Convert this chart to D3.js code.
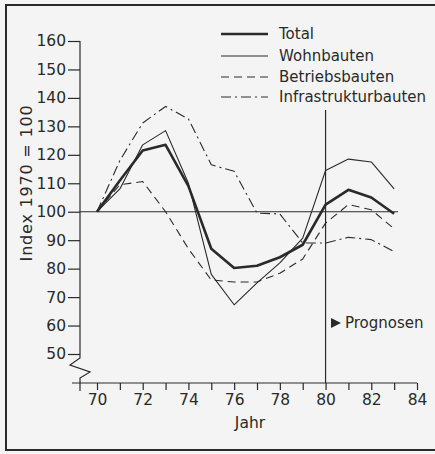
<!DOCTYPE html>
<html><head><meta charset="utf-8">
<script src="https://cdn.jsdelivr.net/npm/d3@7"></script>
<style>body{margin:0;background:#f4f4f4;} svg{display:block;}</style>
</head><body>
<svg id="c" width="435" height="454"></svg>
<script>
const years = [70,71,72,73,74,75,76,77,78,79,80,81,82,83];
const total = [100,111,121.5,123.5,109,87,80.2,81,84,88.4,102.5,107.7,105,99.3];
const wohnbauten = [100,108,123.5,128.5,110,78,67.3,75,82,90.7,114.5,118.5,117.5,108];
const betriebsbauten = [100,109.5,110.6,100,87,76,75.3,75.3,78.4,83.4,96,102.5,100.7,94];
const infrastrukturbauten = [100,118,131.2,137,132.6,116.5,114.2,99.5,99.2,89,89,91,90.2,86];
const seriesNames = ["Total","Wohnbauten","Betriebsbauten","Infrastrukturbauten"];
const yTicks = [50,60,70,80,90,100,110,120,130,140,150,160];
const xTicks = [70,71,72,73,74,75,76,77,78,79,80,81,82,83,84];
const xLabels = [70,72,74,76,78,80,82,84];

const ink = "#2a2a2a";
const font = "'DejaVu Sans', sans-serif";
const svg = d3.select("#c");
const x = d3.scaleLinear().domain([70,84]).range([97,417]);
const y = d3.scaleLinear().domain([50,160]).range([354,41]);

// frame
svg.append("path").attr("d","M435,5 H6 V450 H435").attr("fill","none").attr("stroke",ink).attr("stroke-width",2);

// y axis
const ya = svg.append("g").attr("transform","translate(80,0)")
  .call(d3.axisLeft(y).tickValues(yTicks).tickSize(12).tickPadding(2));
ya.select(".domain").remove();
ya.selectAll("line").attr("stroke",ink).attr("stroke-width",1.2);
ya.selectAll("text").attr("font-family",font).attr("font-size",15.5).attr("fill",ink);
// axis spine with break
svg.append("path")
  .attr("d",`M80,${y(160)} V358 L70,365 L90,372 L80,378 V391`)
  .attr("fill","none").attr("stroke",ink).attr("stroke-width",1.2);

// x axis
const xa = svg.append("g").attr("transform","translate(0,383)")
  .call(d3.axisBottom(x).tickValues(xTicks).tickSize(7).tickPadding(4)
    .tickFormat(d => xLabels.includes(d) ? d : ""));
xa.select(".domain").remove();
xa.selectAll("line").attr("stroke",ink).attr("stroke-width",1.2);
xa.selectAll("text").attr("font-family",font).attr("font-size",15.5).attr("fill",ink);
svg.append("line").attr("x1",72).attr("x2",x(84)).attr("y1",383).attr("y2",383)
  .attr("stroke",ink).attr("stroke-width",1.2);

// axis titles
svg.append("text").attr("transform",`translate(32,183) rotate(-90)`)
  .attr("text-anchor","middle").attr("font-family",font).attr("font-size",16)
  .attr("letter-spacing",0.8).attr("fill",ink)
  .text("Index 1970 = 100");
svg.append("text").attr("x",250).attr("y",428).attr("text-anchor","middle")
  .attr("font-family",font).attr("font-size",15.5).attr("fill",ink).text("Jahr");

// reference lines
svg.append("line").attr("x1",80).attr("x2",398).attr("y1",y(100)).attr("y2",y(100))
  .attr("stroke",ink).attr("stroke-width",1.2);
svg.append("line").attr("x1",x(80)).attr("x2",x(80)).attr("y1",110).attr("y2",383)
  .attr("stroke",ink).attr("stroke-width",1.2);

// series
const styles = [
  {w:2.6, dash:null},
  {w:1.1, dash:null},
  {w:1.1, dash:"8,5"},
  {w:1.1, dash:"10,4,2,4"}
];
const data = [total, wohnbauten, betriebsbauten, infrastrukturbauten];
const line = d3.line().x((d,i)=>x(years[i])).y(d=>y(d));
data.forEach((vals,k)=>{
  svg.append("path").datum(vals).attr("d",line).attr("fill","none")
    .attr("stroke",ink).attr("stroke-width",styles[k].w)
    .attr("stroke-dasharray",styles[k].dash).attr("stroke-linejoin","round");
});

// legend
const ly = [34,56,77,97];
seriesNames.forEach((n,k)=>{
  svg.append("line").attr("x1",221).attr("x2",268).attr("y1",ly[k]).attr("y2",ly[k])
    .attr("stroke",ink).attr("stroke-width",styles[k].w).attr("stroke-dasharray",styles[k].dash);
  svg.append("text").attr("x",279).attr("y",ly[k]).attr("dy","0.35em")
    .attr("font-family",font).attr("font-size",15).attr("fill",ink).text(n);
});

// Prognosen
svg.append("path").attr("d","M331,318 L341,323 L331,328 Z").attr("fill",ink);
svg.append("text").attr("x",345).attr("y",323).attr("dy","0.35em")
  .attr("font-family",font).attr("font-size",15).attr("fill",ink).text("Prognosen");
</script>
</body></html>
